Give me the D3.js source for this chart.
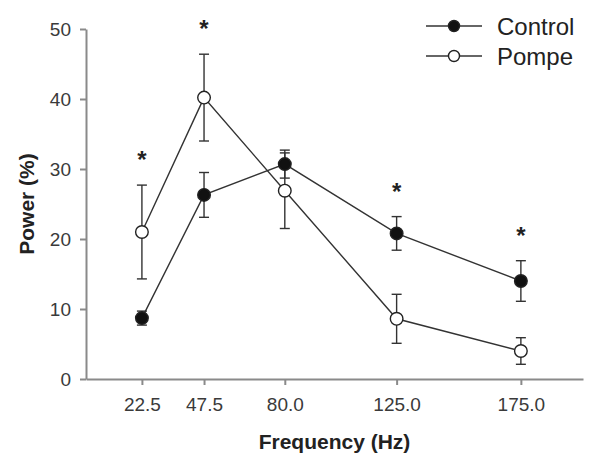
<!DOCTYPE html>
<html>
<head>
<meta charset="utf-8">
<script src="https://cdn.jsdelivr.net/npm/d3@7"></script>
<style>
  body { margin: 0; background: #fff; }
  #chart { width: 600px; height: 469px; }
  .axis path, .axis line { stroke: #8a8a8a; stroke-width: 2; }
  .axis text { font-family: Arial, "Liberation Sans", sans-serif; font-size: 19px; fill: #3a3a3a; }
</style>
</head>
<body>
<div id="chart"></div>
<script>

// data
const freqs = [22.5, 47.5, 80.0, 125.0, 175.0];
const xTicks = [22.5, 47.5, 80.0, 125.0, 175.0];
const yTicks = [0, 10, 20, 30, 40, 50];

const controlMean = [8.7, 26.3, 30.7, 20.8, 14.0];
const controlErr = [1.0, 3.2, 2.0, 2.4, 2.9];
const pompeMean = [21.0, 40.2, 26.9, 8.6, 4.0];
const pompeErr = [6.7, 6.2, 5.4, 3.5, 1.9];

// where the significance stars go
const starFreqs = [22.5, 47.5, 125.0, 175.0];

const width = 600;
const height = 469;
const margin = { top: 29, left: 86, right: 17, bottom: 90 };

const svg = d3.select("#chart")
  .append("svg")
  .attr("width", width)
  .attr("height", height);

const xScale = d3.scaleLinear()
  .domain([0, 200])
  .range([margin.left, width - margin.right]);

const yScale = d3.scaleLinear()
  .domain([0, 50])
  .range([height - margin.bottom, margin.top]);

// axes
svg.append("g")
  .attr("class", "axis")
  .attr("transform", `translate(0,${height - margin.bottom})`)
  .call(d3.axisBottom(xScale).tickValues(xTicks).tickFormat(d3.format(".1f"))
    .tickSize(6).tickSizeOuter(0).tickPadding(13));

svg.append("g")
  .attr("class", "axis")
  .attr("transform", `translate(${margin.left},0)`)
  .call(d3.axisLeft(yScale).tickValues(yTicks).tickSize(6).tickSizeOuter(0).tickPadding(9));

const line = d3.line()
  .x(function (d) { return xScale(d.f); })
  .y(function (d) { return yScale(d.v); });

function makeSeries(means, errs) {
  return freqs.map(function (f, i) { return { f: f, v: means[i], e: errs[i] }; });
}

const series = [
  { name: "Control", data: makeSeries(controlMean, controlErr), fill: "#111" },
  { name: "Pompe", data: makeSeries(pompeMean, pompeErr), fill: "#fff" }
];

// lines first, then error bars, then markers
series.forEach(function (s) {
  svg.append("path")
    .datum(s.data)
    .attr("d", line)
    .attr("fill", "none")
    .attr("stroke", "#333")
    .attr("stroke-width", 1.4);
});

series.forEach(function (s) {
  const g = svg.append("g").attr("stroke", "#333").attr("stroke-width", 1.4);
  s.data.forEach(function (d) {
    const x = xScale(d.f);
    const y1 = yScale(d.v + d.e);
    const y2 = yScale(d.v - d.e);
    g.append("line").attr("x1", x).attr("x2", x).attr("y1", y1).attr("y2", y2);
    g.append("line").attr("x1", x - 5).attr("x2", x + 5).attr("y1", y1).attr("y2", y1);
    g.append("line").attr("x1", x - 5).attr("x2", x + 5).attr("y1", y2).attr("y2", y2);
  });
});

series.forEach(function (s) {
  svg.selectAll(null)
    .data(s.data)
    .enter()
    .append("circle")
    .attr("cx", function (d) { return xScale(d.f); })
    .attr("cy", function (d) { return yScale(d.v); })
    .attr("r", 6.3)
    .attr("fill", s.fill)
    .attr("stroke", "#222")
    .attr("stroke-width", 1.4);
});

// stars above the highest error bar at each frequency
starFreqs.forEach(function (f) {
  const i = freqs.indexOf(f);
  const top = Math.max(controlMean[i] + controlErr[i], pompeMean[i] + pompeErr[i]);
  svg.append("text")
    .attr("x", xScale(f))
    .attr("y", yScale(top) - 17)
    .attr("text-anchor", "middle")
    .attr("font-family", "Arial, 'Liberation Sans', sans-serif")
    .attr("font-size", 24)
    .attr("font-weight", "bold")
    .attr("fill", "#222")
    .text("*");
});

// legend
const legend = svg.append("g").attr("transform", "translate(426,26)");
series.forEach(function (s, i) {
  const row = legend.append("g").attr("transform", `translate(0,${i * 30})`);
  row.append("line")
    .attr("x1", 0).attr("x2", 56)
    .attr("stroke", "#333").attr("stroke-width", 1.4);
  row.append("circle")
    .attr("cx", 28).attr("r", 5.5)
    .attr("fill", s.fill).attr("stroke", "#222").attr("stroke-width", 1.4);
  row.append("text")
    .attr("x", 71).attr("y", 8.5)
    .attr("font-family", "Arial, 'Liberation Sans', sans-serif")
    .attr("font-size", 24)
    .attr("fill", "#222")
    .text(s.name);
});

// axis titles
svg.append("text")
  .attr("x", (xScale.range()[0] + xScale.range()[1]) / 2)
  .attr("y", 449)
  .attr("text-anchor", "middle")
  .attr("font-family", "Arial, 'Liberation Sans', sans-serif")
  .attr("font-size", 21)
  .attr("font-weight", "bold")
  .attr("fill", "#222")
  .text("Frequency (Hz)");

svg.append("text")
  .attr("x", -(margin.top + height - margin.bottom) / 2)
  .attr("y", 34)
  .attr("transform", "rotate(-90)")
  .attr("text-anchor", "middle")
  .attr("font-family", "Arial, 'Liberation Sans', sans-serif")
  .attr("font-size", 21)
  .attr("font-weight", "bold")
  .attr("fill", "#222")
  .text("Power (%)");

</script>
</body>
</html>
